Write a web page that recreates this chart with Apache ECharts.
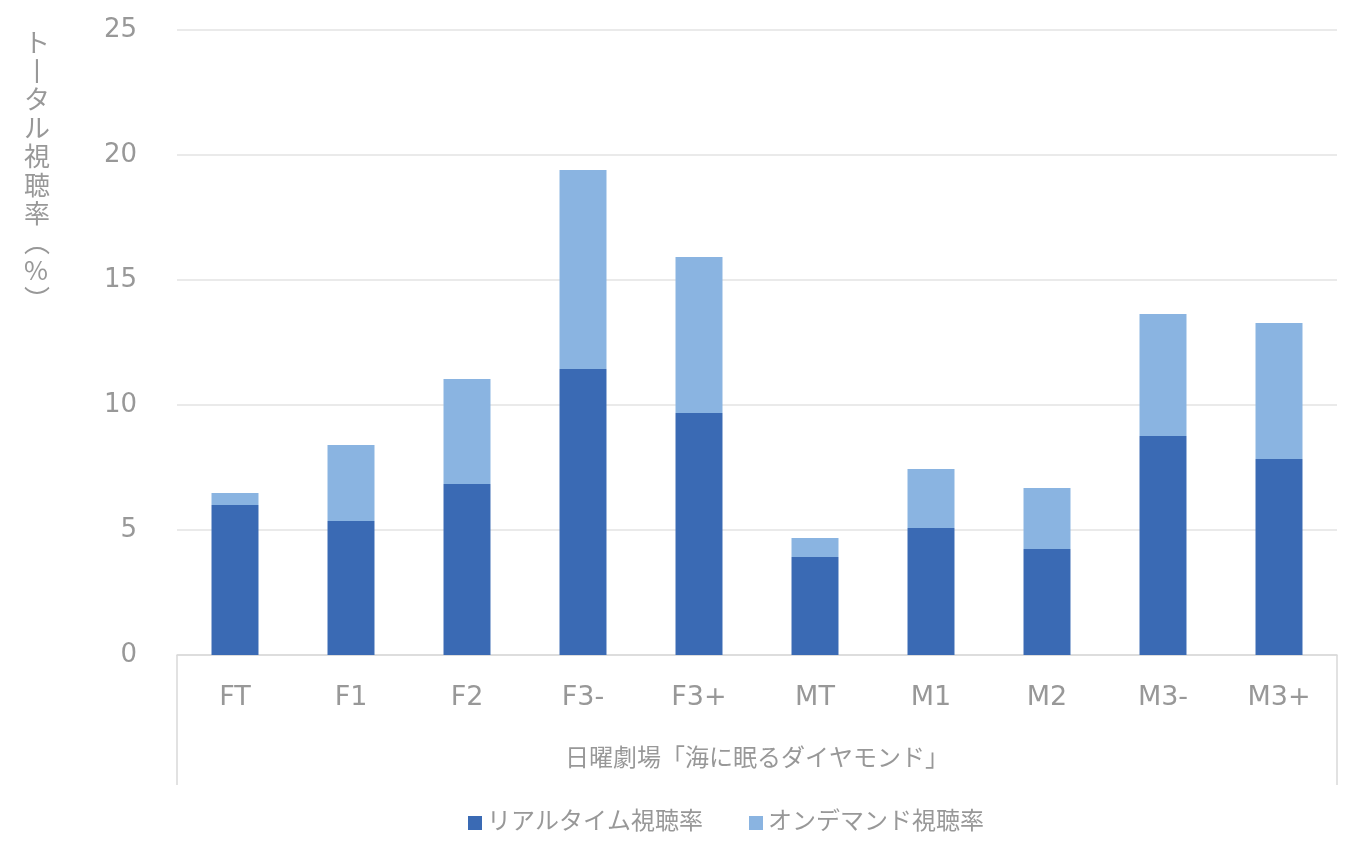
<!DOCTYPE html>
<html>
<head>
<meta charset="utf-8">
<script src="https://cdn.jsdelivr.net/npm/echarts@6/dist/echarts.min.js"></script>
<style>
html,body{margin:0;padding:0;background:#fff;}
#main{width:1360px;height:857px;}
</style>
</head>
<body>
<div id="main"></div>
<script>
const categories = ['FT','F1','F2','F3-','F3+','MT','M1','M2','M3-','M3+'];
const groupLabel = ['日曜劇場「海に眠るダイヤモンド」'];
const realtime = [6.0, 5.36, 6.84, 11.44, 9.68, 3.92, 5.08, 4.24, 8.76, 7.84];
const ondemand = [0.48, 3.04, 4.2, 7.96, 6.24, 0.76, 2.36, 2.44, 4.88, 5.44];
const seriesNames = ['リアルタイム視聴率', 'オンデマンド視聴率'];
const yTitleChars = ['ト','丨','タ','ル','視','聴','率','︵','%','︶'];

const FONT = "'DejaVu Sans', 'Noto Sans CJK JP', sans-serif";
const TXT = '#989898';
const chart = echarts.init(document.getElementById('main'), null, {renderer:'canvas'});
chart.setOption({
  animation: false,
  textStyle: {fontFamily: FONT},
  grid: {left: 177, right: 23, top: 30, bottom: 202, containLabel: false},
  legend: {
    data: seriesNames,
    left: 463, top: 806,
    itemWidth: 14, itemHeight: 14, itemGap: 46,
    icon: 'rect',
    textStyle: {color: TXT, fontSize: 24, fontFamily: FONT}
  },
  graphic: [{
    type: 'text',
    left: 24, top: 28,
    style: {
      text: yTitleChars.join('\n'),
      fill: TXT, fontSize: 26, lineHeight: 28.5,
      fontFamily: "'Noto Sans CJK JP', sans-serif", align: 'center'
    }
  }],
  xAxis: [{
    type: 'category',
    data: categories,
    position: 'bottom',
    axisLine: {show: true, lineStyle: {color: '#d9d9d9', width: 1.5}},
    axisTick: {show: false},
    axisLabel: {color: TXT, fontSize: 27, margin: 29, fontFamily: FONT}
  }, {
    type: 'category',
    data: groupLabel,
    position: 'bottom',
    axisLine: {show: false},
    axisTick: {show: true, length: 130, lineStyle: {color: '#d9d9d9', width: 1.5}},
    axisLabel: {color: TXT, fontSize: 24, margin: 93, fontFamily: FONT}
  }],
  yAxis: {
    type: 'value',
    min: 0, max: 25, interval: 5,
    axisLine: {show: false},
    axisTick: {show: false},
    axisLabel: {color: TXT, fontSize: 26, margin: 40, fontFamily: FONT},
    splitLine: {lineStyle: {color: '#e3e3e3', width: 1.5}}
  },
  series: [{
    name: seriesNames[0],
    type: 'bar',
    stack: 'total',
    xAxisIndex: 0,
    data: realtime,
    barWidth: '40.5%',
    itemStyle: {color: '#3A6AB4'}
  }, {
    name: seriesNames[1],
    type: 'bar',
    stack: 'total',
    xAxisIndex: 0,
    data: ondemand,
    barWidth: '40.5%',
    itemStyle: {color: '#8AB4E1'}
  }]
});
</script>
</body>
</html>
